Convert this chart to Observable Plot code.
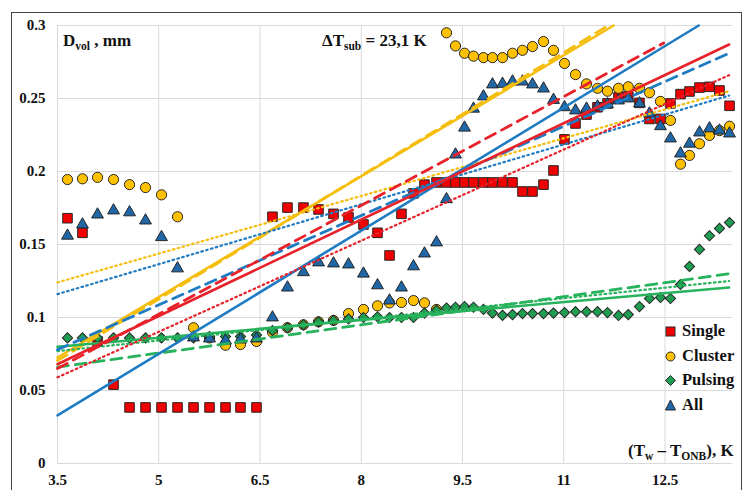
<!DOCTYPE html>
<html>
<head>
<meta charset="utf-8">
<script src="https://cdn.jsdelivr.net/npm/d3@7"></script>
<script src="https://cdn.jsdelivr.net/npm/@observablehq/plot@0.6"></script>
<style>
  html, body { margin: 0; padding: 0; background: #fff; overflow: hidden; }
  #wrap { position: relative; width: 745px; height: 490px; overflow: hidden; }
  #frame { position: absolute; left: 11px; top: 12px; width: 731px; height: 500px; border: 1.5px solid #444; box-sizing: border-box; pointer-events: none; }
  .lbl { position: absolute; font-family: "Liberation Serif", "Times New Roman", serif; font-weight: bold; font-size: 17px; line-height: 17px; white-space: nowrap; color: #111; }
  .sb { font-size: 11.5px; position: relative; top: 4px; }
  #legend { position: absolute; left: 664px; top: 318px; }
  .lrow { position: relative; height: 24.7px; font-family: "Liberation Serif", "Times New Roman", serif; font-weight: bold; font-size: 16.5px; line-height: 24.7px; white-space: nowrap; color: #111; }
  .lrow svg { position: absolute; left: 0; top: 7px; }
  .lrow span { position: absolute; left: 18px; top: 1px; }
</style>
</head>
<body>
<div id="wrap">
  <div id="chart"></div>
  <div id="frame"></div>
  <div class="lbl" style="left:63px; top:32px;">D<span class="sb">vol</span> , mm</div>
  <div class="lbl" style="left:322px; top:32px;">ΔT<span class="sb">sub</span> = 23,1 K</div>
  <div class="lbl" style="left:628px; top:442px;">(T<span class="sb">w</span> – T<span class="sb">ONB</span>), K</div>
  <div id="legend"></div>
</div>
<script>
// ---- data ----
const xTicks = [3.5, 5, 6.5, 8, 9.5, 11, 12.5];
const xTickLabels = ["3.5", "5", "6.5", "8", "9.5", "11", "12.5"];
const yTicks = [0, 0.05, 0.1, 0.15, 0.2, 0.25, 0.3];
const yTickLabels = ["0", "0.05", "0.1", "0.15", "0.2", "0.25", "0.3"];

const seriesNames = ["Single", "Cluster", "Pulsing", "All"];

const xVals = [3.648, 3.870, 4.093, 4.330, 4.567, 4.804, 5.041, 5.278, 5.515, 5.752,
  5.989, 6.211, 6.448, 6.685, 6.907, 7.144, 7.367, 7.589, 7.811, 8.033,
  8.241, 8.419, 8.596, 8.774, 8.937, 9.115, 9.263, 9.396, 9.530, 9.663,
  9.811, 9.944, 10.093, 10.241, 10.389, 10.537, 10.700, 10.848, 11.011, 11.174,
  11.337, 11.500, 11.648, 11.811, 11.956, 12.122, 12.270, 12.433, 12.581, 12.730,
  12.863, 13.011, 13.159, 13.307, 13.456];

const singleVals = [0.168, 0.158, 0.0836, 0.054, 0.0384, 0.0384, 0.0384, 0.0384, 0.0384, 0.0384,
  0.0384, 0.0384, 0.0384, 0.169, 0.1753, 0.1753, 0.174, 0.171, 0.1685, 0.1637,
  0.158, 0.1425, 0.171, 0.185, 0.191, 0.1925, 0.1925, 0.1925, 0.1925, 0.1925,
  0.1925, 0.1925, 0.1925, 0.1925, 0.1863, 0.1863, 0.191, 0.2007, 0.222, 0.2329,
  0.239, 0.244, 0.2466, 0.2507, 0.2514, 0.247, 0.236, 0.236, 0.2466, 0.253,
  0.2548, 0.2575, 0.258, 0.2555, 0.245];

const clusterVals = [0.1945, 0.195, 0.196, 0.1945, 0.191, 0.189, 0.184, 0.169, 0.093, 0.086,
  0.081, 0.0815, 0.0836, 0.090, 0.093, 0.095, 0.097, 0.098, 0.1027, 0.1055,
  0.108, 0.110, 0.1103, 0.1116, 0.110, 0.1055, 0.295, 0.286, 0.281, 0.279,
  0.278, 0.278, 0.278, 0.281, 0.283, 0.2856, 0.289, 0.283, 0.274, 0.2664,
  0.260, 0.257, 0.255, 0.257, 0.258, 0.257, 0.254, 0.248, 0.235, 0.205,
  0.211, 0.219, 0.2247, 0.228, 0.231];

const pulsingVals = [0.086, 0.086, 0.086, 0.086, 0.086, 0.086, 0.086, 0.086, 0.086, 0.087,
  0.087, 0.087, 0.088, 0.091, 0.093, 0.095, 0.097, 0.098, 0.099, 0.100,
  0.1005, 0.100, 0.100, 0.100, 0.103, 0.105, 0.1065, 0.107, 0.1075, 0.107,
  0.1055, 0.103, 0.1015, 0.102, 0.1027, 0.1027, 0.1027, 0.103, 0.1034, 0.104,
  0.104, 0.104, 0.1034, 0.1014, 0.102, 0.1075, 0.113, 0.1137, 0.113, 0.1226,
  0.135, 0.1466, 0.156, 0.161, 0.165];

const allVals = [0.156, 0.1637, 0.1705, 0.1733, 0.172, 0.1664, 0.155, 0.1336, 0.0863, 0.0856,
  0.0842, 0.0849, 0.0856, 0.100, 0.1205, 0.131, 0.1377, 0.137, 0.1363, 0.130,
  0.122, 0.1116, 0.1205, 0.135, 0.1438, 0.1514, 0.181, 0.2116, 0.230, 0.243,
  0.2514, 0.2596, 0.260, 0.2616, 0.2616, 0.2596, 0.2568, 0.249, 0.244, 0.2418,
  0.243, 0.2445, 0.246, 0.2486, 0.250, 0.2466, 0.2397, 0.231, 0.2226, 0.2123,
  0.219, 0.2267, 0.2295, 0.228, 0.226];

// trend lines: [[x1, y1], [x2, y2]]
const singleFitSolid  = [[3.5, 0.068], [13.45, 0.287]];
const singleFitDashed = [[3.5, 0.065], [12.48, 0.288]];
const singleFitDotted = [[3.5, 0.059], [13.45, 0.266]];
const clusterFitSolid  = [[3.5, 0.0726], [11.74, 0.3]];
const clusterFitDashed = [[3.5, 0.0705], [11.66, 0.3]];
const clusterFitDotted = [[3.5, 0.124], [13.45, 0.255]];
const pulsingFitSolid  = [[3.5, 0.080], [13.45, 0.1205]];
const pulsingFitDashed = [[3.5, 0.066], [13.45, 0.130]];
const pulsingFitDotted = [[3.5, 0.077], [13.45, 0.125]];
const allFitSolid  = [[3.5, 0.033], [13.0, 0.3]];
const allFitDashed = [[3.5, 0.078], [13.45, 0.281]];
const allFitDotted = [[3.5, 0.116], [13.45, 0.252]];

// ---- styling ----
const markerFill = {Single: "#f00000", Cluster: "#ffc000", Pulsing: "#1f9d50", All: "#1f67a6"};
const lineColor = {Single: "#e8222a", Cluster: "#f5bd0c", Pulsing: "#27b25c", All: "#1f7cc2"};
const serif = "Liberation Serif";

const toPts = vals => xVals.map((x, i) => ({x, y: vals[i]}));
const fits = [
  ["Cluster", clusterFitSolid, clusterFitDashed, clusterFitDotted],
  ["Pulsing", pulsingFitSolid, pulsingFitDashed, pulsingFitDotted],
  ["All", allFitSolid, allFitDashed, allFitDotted],
  ["Single", singleFitSolid, singleFitDashed, singleFitDotted]
];

const lineMarks = [];
for (const [name, solid, dashed, dotted] of fits) {
  lineMarks.push(Plot.line(dotted, {stroke: lineColor[name], strokeWidth: 2.2, strokeDasharray: "1.6,3.4"}));
  lineMarks.push(Plot.line(solid, {stroke: lineColor[name], strokeWidth: 2.6}));
  lineMarks.push(Plot.line(dashed, {stroke: lineColor[name], strokeWidth: 2.8, strokeDasharray: "11,7"}));
}

const outline = "#262626";
const chart = Plot.plot({
  width: 745,
  height: 490,
  marginLeft: 57,
  marginRight: 13,
  marginTop: 25,
  marginBottom: 27,
  x: {domain: [3.5, 13.5]},
  y: {domain: [0, 0.3]},
  style: {background: "transparent"},
  marks: [
    Plot.gridX(xTicks, {stroke: "#d9d9d9", strokeOpacity: 1, strokeWidth: 1}),
    Plot.gridY(yTicks, {stroke: "#d9d9d9", strokeOpacity: 1, strokeWidth: 1}),
    Plot.axisX(xTicks, {tickSize: 0, tickPadding: 11, tickFormat: d => xTickLabels[xTicks.indexOf(d)],
      fontSize: 15, fontWeight: "bold", fontFamily: serif, fill: "#111", label: null}),
    Plot.axisY(yTicks, {tickSize: 0, tickPadding: 12, tickFormat: d => yTickLabels[yTicks.indexOf(d)],
      fontSize: 15, fontWeight: "bold", fontFamily: serif, fill: "#111", label: null}),
    Plot.dot(toPts(singleVals), {x: "x", y: "y", symbol: "square", r: 5.4, fill: markerFill.Single, stroke: outline, strokeWidth: 1}),
    Plot.dot(toPts(clusterVals), {x: "x", y: "y", symbol: "circle", r: 5.1, fill: markerFill.Cluster, stroke: outline, strokeWidth: 1}),
    Plot.dot(toPts(pulsingVals), {x: "x", y: "y", symbol: "square", rotate: 45, r: 4.1, fill: markerFill.Pulsing, stroke: outline, strokeWidth: 1}),
    Plot.dot(toPts(allVals), {x: "x", y: "y", symbol: "triangle", r: 4.4, fill: markerFill.All, stroke: outline, strokeWidth: 1}),
    ...lineMarks
  ]
});
document.getElementById("chart").appendChild(chart);

// ---- legend ----
const icons = {
  Single: `<svg width="12" height="12"><rect x="2" y="2" width="9" height="9" fill="${markerFill.Single}" stroke="${outline}" stroke-width="1"/></svg>`,
  Cluster: `<svg width="12" height="12"><circle cx="6.5" cy="6.5" r="4.5" fill="${markerFill.Cluster}" stroke="${outline}" stroke-width="1"/></svg>`,
  Pulsing: `<svg width="12" height="12"><path d="M6.5,1.5 L11.5,6.5 L6.5,11.5 L1.5,6.5 Z" fill="${markerFill.Pulsing}" stroke="${outline}" stroke-width="1"/></svg>`,
  All: `<svg width="12" height="12"><path d="M6.5,1 L11.5,11 L1.5,11 Z" fill="${markerFill.All}" stroke="${outline}" stroke-width="1"/></svg>`
};
document.getElementById("legend").innerHTML = seriesNames
  .map(n => `<div class="lrow">${icons[n]}<span>${n}</span></div>`).join("");
</script>
</body>
</html>
